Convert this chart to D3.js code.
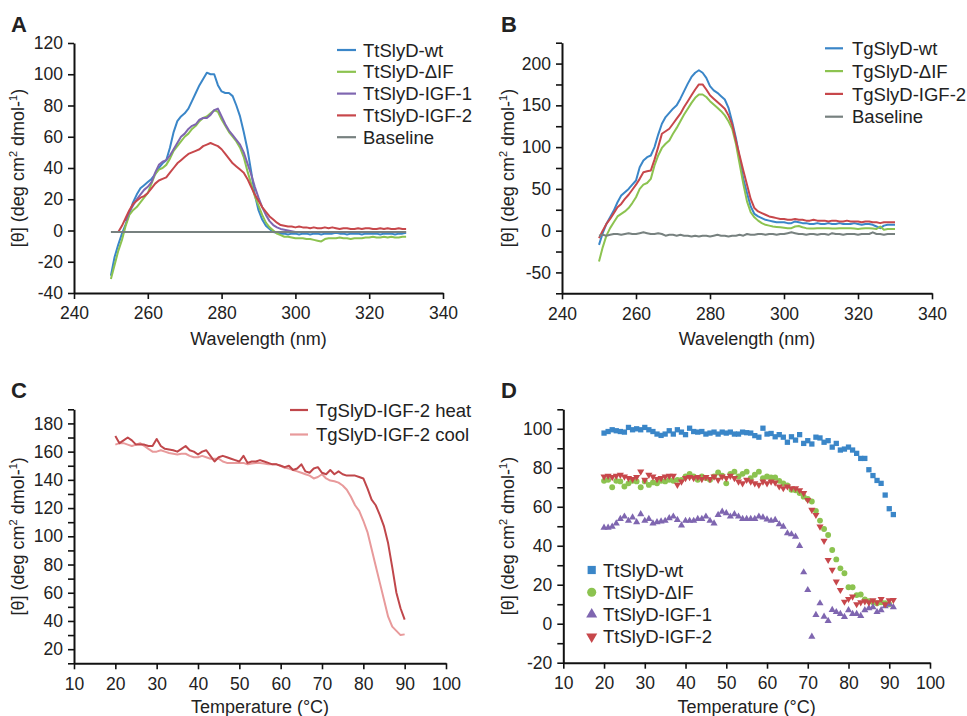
<!DOCTYPE html>
<html><head><meta charset="utf-8">
<script src="https://cdn.jsdelivr.net/npm/d3@7"></script>
<style>
body{margin:0;background:#fff}
svg text{font-family:"Liberation Sans",Arial,Helvetica,sans-serif;fill:#222}
</style></head><body>
<svg id="c" width="967" height="716"></svg>
<script>
// ---------- DATA ----------
const wavelengths = d3.range(250, 331); // 250..330 nm
// Panel A (TtSlyD)
const aWt = [-29,-17,-9,-2,4,11,18,23,27,29,31,33,36,40,43,45,53,63,70,73,75,78,83,88,93,97,101,100,100,93,89,88,88,86,80,73,63,52,38,23,13,7,3,1,-1,-1.5,-2,-2,-2.5,-2,
 -2,-2.5,-2,-2,-2.5,-2,-2,-2.5,-2,-2,-2,-1.5,-2,-2,-2.5,-2,-2,-2,-2.5,-2,-2,-2,-2,-2.5,-2,-2,-2,-2.5,-2,-2,-1.5];
const aDIF = [-31,-22,-13,-6,3,10,13,15,18,21,24,30,36,39,40,42,46,51,54,57,60,62,65,67,70,72,73,75,77,76,71,67,63,60,57,53,47,38,30,22,16,10,5,2,0,-2,-3,-4,-4,-4.5,
 -5,-5,-5,-5.5,-5.5,-6,-6.5,-7,-5.5,-5,-5,-5,-4.5,-5,-5,-5.5,-5,-5,-5,-4.5,-4.5,-4,-4.5,-4.5,-4,-4.5,-4,-4.5,-4.5,-4,-4];
const aIGF1 = [null,null,null,null,6,12,16,20,23,26,28,31,37,42,44,45,48,52,56,60,62,65,67,68,71,72,72,74,77,78,73,68,64,61,58,55,50,43,36,28,21,15,10,6,3.5,2,1,0.5,0,-0.5,
 -1,-1,-1,-1,-1,-1,-1,-1,-1,-1,-1,-1,-1,-1,-1,-1,-1,-1,-1,-1,-1,-1,-1,-1,-1,-1,-1,-1,-1,-1,-1];
const aIGF2 = [null,null,-1,3,8,13,17,19,21,22,24,27,30,32,33,34,37,40,43,45,47,49,50,51,52,54,55,56,55,54,52,49,46,43,41,39,37,33,28,23,19,15,12,9,7,5,3.5,3,2.5,2.5,
 2,2.5,2,2,1.5,2,1.5,1.5,2,1.5,2,1.5,1,1.5,1.5,1,1,1.5,1,1.5,1.5,1,1,1.5,1,1.5,1,1,1.5,1,1];
const aBase = wavelengths.map(() => -1);
// Panel B (TgSlyD)
const bWt = [-17,-3,8,16,24,34,42,46,50,55,60,76,84,88,90,100,115,128,136,141,146,150,158,167,176,184,189,192,189,183,173,168,165,161,157,147,130,111,87,62,45,29,20,17,15,13,12,11,10,10,
 10,9,9,11,10,9,9,8,8,9,8,8,9,8,8,9,8,8,8,9,8,7,8,8,7,5,3,6,7,7,7];
const bDIF = [-37,-20,-6,3,10,17,20,23,27,33,40,50,55,57,62,78,90,99,104,108,116,123,131,139,146,153,159,163,163,160,155,151,147,143,138,131,122,104,80,56,35,22,16,12,9,7,6,5,4.5,4,
 3.5,3,3,5,5.5,4,3,2.5,2.5,3,3,3,3,2.5,2.5,3,3,3,3,2.5,2,2.5,3,3,2.5,2,5,1,2,2,2];
const bIGF2 = [-9,0,8,14,21,28,32,38,43,49,55,62,70,71,72,85,100,116,119,122,128,134,140,148,155,162,169,175,175,169,162,158,154,150,146,138,127,108,90,72,55,38,27,23,21,19,17,16,15,14,
 14,13,13,14,13,13,12,12,13,12,12,12,11,12,12,11,11,12,11,11,11,10,11,11,10,10,9,10,10,10,10];
const bBase = [-6,-5,-6,-5,-4,-4,-5,-4,-3,-4,-4,-3,-2,-3,-4,-4,-3,-4,-6,-5,-5,-6,-5,-6,-6,-7,-6,-7,-6,-6,-7,-6,-5,-6,-6,-7,-6,-6,-5,-6,
 -4,-5,-5,-4,-4,-5,-4,-4,-5,-4,-4,-3,-2,-3,-4,-4,-5,-4,-4,-5,-4,-4,-5,-3,-4,-4,-5,-4,-4,-4,-5,-4,-4,-4,-2,-4,-4,-5,-4,-4,-4];
// Panel C (TgSlyD-IGF-2 thermal)
const tempsC = d3.range(20, 91);
const cHeat = [171,166,168,170,168,165,165,165,164,164,169,164,162,161.5,161,160,162,164,161,160,158,160,161,157,153,156,157,156,155,154,153,157,152,153,153,154,153,152,151,151,
 150,149,150,147,148,151,146,145,148,149,145,144,147,144,146,144,143,143,143,142,141,134,126,122,115,107,95,78,60,49,41];
const cCool = [165,166,166,165,164,165,166,164,162,160,160,161,160,159,158.5,158,158.5,158.5,157,156,156,157,156,155,155,155,153,152,152,152,152,152,151,151.5,152,152,151.5,151,151,151,
 150,148.5,148,147,146,145,144,143,141,142,144,141,139.5,139,138,136,133,128,122,118,111,103,91,79,67,55,43,36,33,30,30.5];
// Panel D (TtSlyD thermal, points)
const tempsD = d3.range(20, 92);
const dWt = [97.8,98.6,99.5,99,98.6,98.3,100.7,99.5,100,99.5,100.7,99.5,98.6,97.3,96.6,97.3,99,97.3,99.5,98.3,97,100.3,98.6,98.3,98.6,97.3,97.8,98.3,97.3,98.3,97.8,98.3,97.3,97.3,
 98.3,98,97.8,96.5,95.7,100.3,97.3,97.6,95.9,97,95.7,93.1,95.9,94.2,97,92.5,93.9,92.2,95.7,95.3,93.1,93.9,90.6,92.5,89.1,89.6,90.6,89.1,87.4,84.8,84.8,79,76,73.5,72,66,59,56];
const dDIF = [73.3,73.8,70,73.3,73,70.4,72,73.3,73,70,73,71.2,72.5,72,73.3,73,73.8,73.3,73.8,73.8,75.5,76.9,75.5,73.8,75.5,74.7,73.8,75.5,77.6,75.9,72,76.9,78,75.5,76.9,78,74.7,76.4,78,74.7,
 75.5,75,75,73.3,72,71,68.7,68.5,67,65.2,64,62.7,57.9,52.9,48.6,45.5,37.8,33,28.4,25.9,18.7,18.7,14.7,15,12.5,11.5,11,10.5,11,10.5,10,null];
const dIGF1 = [49.3,49.3,49.8,51.5,53.8,55,52.8,54.5,52.1,56.2,52.8,53.8,51.5,52.1,52.5,52.8,54.2,55,53.3,50.4,52.8,52.8,52.8,53.8,53.8,55,52.8,51.5,55.8,57.5,56.7,55,56.2,55,53.8,53.8,
 53.8,53.8,55,54.5,53.5,52.8,53.3,51,49.8,46.4,45.9,44.7,39.9,26.4,17.3,-6.6,4.5,10.5,3.6,1.4,7.1,6,5,3.5,7,5,5,4,7,8,8.5,6,7,9,10,8.5];
const dIGF2 = [75.5,75.9,75.2,75.9,76.4,75.5,74.7,74.2,75.2,78,73.8,76.4,75.5,74.2,74.7,75.5,75.9,75.9,71.2,72.9,74.7,75.2,74.7,75.2,74.2,75.2,74.2,75.5,73.8,75.5,74.7,75.9,74.7,72.9,72,
 73.8,72.9,72,71.2,72.9,72,72.9,72.4,70.4,69.5,70.4,69.5,69.5,68.5,67,63.5,58.4,55.8,49.8,42.5,32.7,27.6,21.6,17.3,11.3,12.7,13.9,10,11,11.5,11,12,11,12.7,10,12,12.2];

const legendA = ["TtSlyD-wt","TtSlyD-\u0394IF","TtSlyD-IGF-1","TtSlyD-IGF-2","Baseline"];
const legendB = ["TgSlyD-wt","TgSlyD-\u0394IF","TgSlyD-IGF-2","Baseline"];
const legendC = ["TgSlyD-IGF-2 heat","TgSlyD-IGF-2 cool"];
const legendD = ["TtSlyD-wt","TtSlyD-\u0394IF","TtSlyD-IGF-1","TtSlyD-IGF-2"];

// ---------- STYLE ----------
const BLUE="#3a86c8", GREEN="#8cc350", PURPLE="#7f66b0", RED="#c7474b", GRAY="#77817f";
const HEAT="#c0474b", COOL="#e89a9b";
const svg = d3.select("#c");

function axes(x, y, yVals, yLab, xVals, xTitle, cx, cy){
  const g = svg.append("g");
  const ya = d3.axisLeft(y).tickValues(yVals).tickSize(6).tickSizeOuter(0).tickPadding(5)
     .tickFormat(d => yLab.includes(d) ? String(d) : "");
  const xa = d3.axisBottom(x).tickValues(xVals).tickSize(6).tickSizeOuter(0).tickPadding(8)
     .tickFormat(d => String(d));
  const gy = g.append("g").attr("transform",`translate(${x.range()[0]},0)`).call(ya);
  const gx = g.append("g").attr("transform",`translate(0,${y.range()[0]})`).call(xa);
  [gy,gx].forEach(a=>{
    a.select(".domain").attr("stroke","#111").attr("stroke-width",2);
    a.selectAll(".tick line").attr("stroke","#111").attr("stroke-width",1.6);
    a.selectAll(".tick text").style("font-size","17.5px").attr("fill","#222");
  });
  g.append("text").attr("x",(x.range()[0]+x.range()[1])/2).attr("y",cy)
    .attr("text-anchor","middle").style("font-size","18px").text(xTitle);
  const yt = g.append("text").attr("transform",`translate(${cx},${(y.range()[0]+y.range()[1])/2}) rotate(-90)`)
    .attr("text-anchor","middle").style("font-size","18px");
  yt.append("tspan").text("[\u03B8] (deg cm");
  yt.append("tspan").attr("dy",-7).style("font-size","11px").text("2");
  yt.append("tspan").attr("dy",7).text(" dmol-");
  yt.append("tspan").attr("dy",-7).style("font-size","11px").text("1");
  yt.append("tspan").attr("dy",7).text(")");
}
function letter(t,x,y){
  svg.append("text").attr("x",x).attr("y",y).style("font-size","22px").style("font-weight","bold")
    .attr("fill","#333").text(t);
}
function line(x,y,xs,vals,color,w){
  const pts = xs.map((d,i)=>[d,vals[i]]).filter(p=>p[1]!==null);
  svg.append("path").datum(pts).attr("fill","none").attr("stroke",color).attr("stroke-width",w||2)
    .attr("stroke-linejoin","round")
    .attr("d", d3.line().x(p=>x(p[0])).y(p=>y(p[1])));
}
function lineLegend(names, colors, x0, x1, tx, y0, dy){
  names.forEach((n,i)=>{
    const yy = y0 + i*dy;
    svg.append("line").attr("x1",x0).attr("x2",x1).attr("y1",yy).attr("y2",yy)
      .attr("stroke",colors[i]).attr("stroke-width",2.2);
    svg.append("text").attr("x",tx).attr("y",yy).attr("dy","0.36em").style("font-size","18.5px").text(n);
  });
}

// ---------- PANEL A ----------
{
  const x = d3.scaleLinear().domain([240,340]).range([74,443]);
  const y = d3.scaleLinear().domain([-40,120]).range([293,43]);
  axes(x,y,d3.range(-40,121,20),d3.range(-40,121,20),d3.range(240,341,20),"Wavelength (nm)",24,345);
  line(x,y,wavelengths,aWt,BLUE);
  line(x,y,wavelengths,aDIF,GREEN);
  line(x,y,wavelengths,aIGF1,PURPLE);
  line(x,y,wavelengths,aIGF2,RED);
  line(x,y,wavelengths,aBase,GRAY);
  lineLegend(legendA,[BLUE,GREEN,PURPLE,RED,GRAY],337,356,363,50,21.8);
  letter("A",11,32);
}
// ---------- PANEL B ----------
{
  const x = d3.scaleLinear().domain([240,340]).range([562,932]);
  const y = d3.scaleLinear().domain([-75,225]).range([293.3,42.7]);
  axes(x,y,d3.range(-75,226,25),d3.range(-50,201,50),d3.range(240,341,20),"Wavelength (nm)",514,345);
  line(x,y,wavelengths,bWt,BLUE);
  line(x,y,wavelengths,bDIF,GREEN);
  line(x,y,wavelengths,bIGF2,RED);
  line(x,y,wavelengths,bBase,GRAY);
  lineLegend(legendB,[BLUE,GREEN,RED,GRAY],825,843,852,48.3,22.8);
  letter("B",501,32);
}
// ---------- PANEL C ----------
{
  const x = d3.scaleLinear().domain([10,100]).range([74,446]);
  const y = d3.scaleLinear().domain([10,190]).range([663.3,409.3]);
  axes(x,y,d3.range(10,191,10),d3.range(20,181,20),d3.range(10,101,10),"Temperature (\u00B0C)",24,713);
  line(x,y,tempsC,cCool,COOL);
  line(x,y,tempsC,cHeat,HEAT);
  lineLegend(legendC,[HEAT,COOL],290,308,316,410,24.5);
  letter("C",11,398);
}
// ---------- PANEL D ----------
{
  const x = d3.scaleLinear().domain([10,100]).range([563.3,930]);
  const y = d3.scaleLinear().domain([-20,110]).range([662.7,409.3]);
  axes(x,y,d3.range(-20,111,10),d3.range(-20,101,20),d3.range(10,101,10),"Temperature (\u00B0C)",514,713);
  const series = [
    {v:dWt, c:BLUE, s:d3.symbolSquare, size:28, rot:0},
    {v:dDIF, c:GREEN, s:d3.symbolCircle, size:27, rot:0},
    {v:dIGF1, c:PURPLE, s:d3.symbolTriangle, size:22, rot:0},
    {v:dIGF2, c:RED, s:d3.symbolTriangle, size:22, rot:180}
  ];
  series.forEach(se=>{
    const pts = tempsD.map((t,i)=>[t,se.v[i]]).filter(p=>p[1]!==null && p[1]!==undefined);
    svg.append("g").selectAll("path").data(pts).join("path")
      .attr("transform",p=>`translate(${x(p[0])},${y(p[1])}) rotate(${se.rot})`)
      .attr("d",d3.symbol().type(se.s).size(se.size)).attr("fill",se.c);
  });
  legendD.forEach((n,i)=>{
    const se = series[i], yy = 570 + i*22.2;
    svg.append("path").attr("transform",`translate(591.7,${yy}) rotate(${se.rot})`)
      .attr("d",d3.symbol().type(se.s).size(se.size*2.4)).attr("fill",se.c);
    svg.append("text").attr("x",603).attr("y",yy).attr("dy","0.36em").style("font-size","18.5px").text(n);
  });
  letter("D",501,398);
}
</script>
</body></html>
